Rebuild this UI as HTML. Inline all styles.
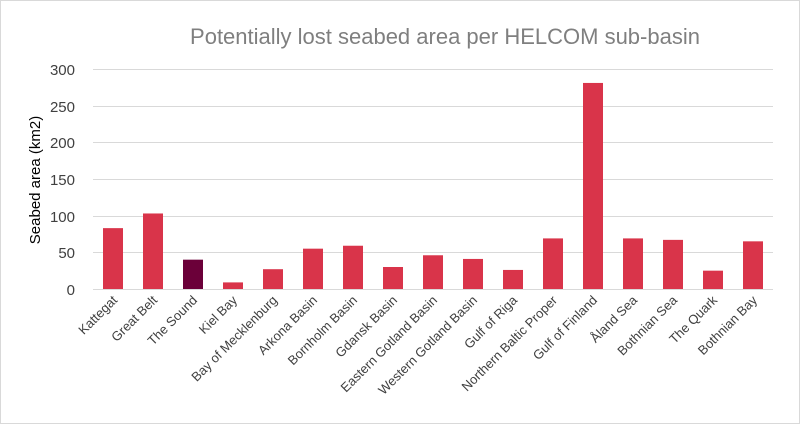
<!DOCTYPE html>
<html><head><meta charset="utf-8"><style>body{margin:0;background:#fff}svg{display:block}</style></head><body>
<svg width="800" height="424" xmlns="http://www.w3.org/2000/svg" font-family="Liberation Sans, sans-serif">
<rect x="0.5" y="0.5" width="799" height="423" fill="#fff" stroke="#d9d9d9"/>
<text x="445" y="44" font-size="22" fill="#7f7f7f" text-anchor="middle">Potentially lost seabed area per HELCOM sub-basin</text>
<g stroke="#d9d9d9" stroke-width="1">
<line x1="93" x2="773" y1="69.5" y2="69.5"/><line x1="93" x2="773" y1="106.5" y2="106.5"/><line x1="93" x2="773" y1="142.5" y2="142.5"/><line x1="93" x2="773" y1="179.5" y2="179.5"/><line x1="93" x2="773" y1="216.5" y2="216.5"/><line x1="93" x2="773" y1="252.5" y2="252.5"/><line x1="93" x2="773" y1="289.5" y2="289.5"/>
</g>
<g font-size="15" fill="#404040" text-anchor="end">
<text x="75" y="75">300</text><text x="75" y="112">250</text><text x="75" y="148">200</text><text x="75" y="185">150</text><text x="75" y="222">100</text><text x="75" y="258">50</text><text x="75" y="295">0</text>
</g>
<text transform="translate(40,180) rotate(-90)" font-size="15" fill="#000" text-anchor="middle">Seabed area (km2)</text>
<g fill="#d9344a" id="bars"></g>
<g id="labels" font-size="13" fill="#404040" text-anchor="end"></g>
<script>
var d=[["Kattegat",83],["Great Belt",103],["The Sound",40],["Kiel Bay",9],["Bay of Mecklenburg",27],["Arkona Basin",55],["Bornholm Basin",59],["Gdansk Basin",30],["Eastern Gotland Basin",46],["Western Gotland Basin",41],["Gulf of Riga",26],["Northern Baltic Proper",69],["Gulf of Finland",281],["Åland Sea",69],["Bothnian Sea",67],["The Quark",25],["Bothnian Bay",65]];
var ns="http://www.w3.org/2000/svg",b=document.getElementById("bars"),l=document.getElementById("labels");
d.forEach(function(e,i){var c=113+40*i,h=e[1]*0.7333;
var r=document.createElementNS(ns,"rect");r.setAttribute("x",c-10);r.setAttribute("width",20);r.setAttribute("y",289-h);r.setAttribute("height",h);if(i==2)r.setAttribute("fill","#6b0039");b.appendChild(r);
var t=document.createElementNS(ns,"text");t.setAttribute("transform","translate("+(c+5)+",301) rotate(-45)");t.textContent=e[0];l.appendChild(t);});
</script>
</svg>
</body></html>
